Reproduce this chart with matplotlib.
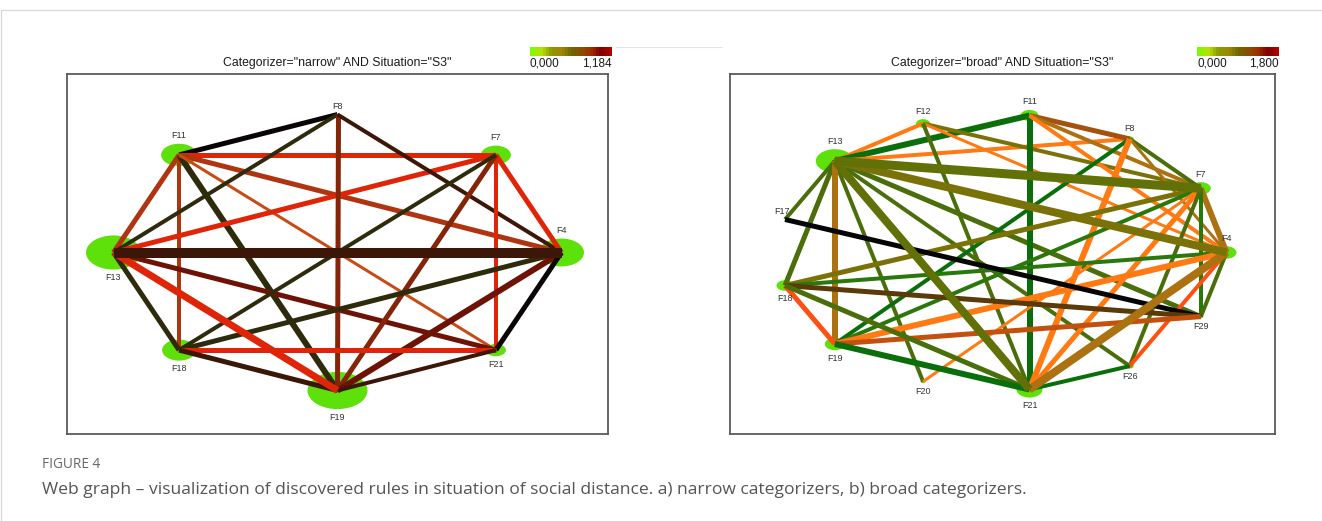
import numpy as np
import matplotlib
matplotlib.use("Agg")
import matplotlib.pyplot as plt
from matplotlib.patches import Ellipse, Rectangle
from matplotlib.colors import LinearSegmentedColormap

# ---- narrow categorizers, S3 ----
narrow_nodes = ["F4", "F7", "F8", "F11", "F13", "F18", "F19", "F21"]
narrow_support = [45, 30, 0, 36, 55, 34, 60, 20]
narrow_edges = [("F11", "F8"), ("F11", "F7"), ("F11", "F13"), ("F11", "F18"),
                ("F11", "F19"), ("F11", "F4"), ("F11", "F21"), ("F13", "F8"),
                ("F13", "F7"), ("F13", "F21"), ("F13", "F18"),
                ("F8", "F19"), ("F8", "F4"), ("F7", "F4"), ("F7", "F21"),
                ("F7", "F19"), ("F7", "F18"), ("F4", "F18"), ("F4", "F19"),
                ("F4", "F21"), ("F18", "F21"), ("F18", "F19"), ("F19", "F21"),
                ("F13", "F19"), ("F13", "F4")]
narrow_edge_support = [5, 5, 5, 4, 6, 5, 3, 4, 5, 5, 5, 5, 4, 5, 4, 5, 4, 5, 6, 5, 5, 5, 4, 7, 10]
narrow_edge_lift = [0, 7, 5, 5, 1, 5, 6, 1, 7, 3, 1, 4, 2, 7, 7, 4, 1, 1, 3, 0, 7, 2, 2, 7, 2]
narrow_max = 1.184

# ---- broad categorizers, S3 ----
broad_nodes = ["F4", "F7", "F8", "F11", "F12", "F13", "F17", "F18", "F19",
               "F20", "F21", "F26", "F29"]
broad_support = [20, 20, 8, 18, 14, 38, 0, 17, 20, 5, 26, 8, 5]
broad_edges = [("F13", "F12"), ("F13", "F11"), ("F13", "F8"), ("F13", "F29"),
               ("F13", "F26"), ("F13", "F20"), ("F13", "F17"), ("F13", "F18"),
               ("F13", "F19"), ("F12", "F7"), ("F12", "F4"), ("F12", "F21"),
               ("F11", "F21"), ("F11", "F8"), ("F11", "F7"), ("F11", "F4"),
               ("F8", "F7"), ("F8", "F4"), ("F8", "F19"), ("F8", "F21"),
               ("F7", "F4"), ("F7", "F29"), ("F7", "F18"), ("F7", "F19"),
               ("F7", "F20"), ("F7", "F21"), ("F7", "F26"), ("F4", "F29"),
               ("F4", "F18"), ("F4", "F19"), ("F4", "F26"), ("F29", "F17"),
               ("F29", "F18"), ("F29", "F19"), ("F18", "F19"), ("F18", "F21"),
               ("F19", "F21"), ("F21", "F26"), ("F4", "F21"), ("F13", "F21"),
               ("F13", "F4"), ("F13", "F7")]
broad_edge_support = [4, 6, 4, 5, 4, 4, 4, 5, 6, 4, 3, 4, 6, 5, 4, 4, 4, 3, 4, 6,
                      6, 4, 5, 4, 3, 5, 4, 4, 4, 6, 4, 5, 5, 5, 5, 5, 6, 4, 8, 8,
                      8, 9]
broad_edge_lift = [7, 1, 7, 3, 3, 3, 3, 3, 6, 5, 7, 3, 1, 11, 6, 7, 3, 6, 1, 7,
                   6, 2, 5, 2, 7, 7, 3, 3, 2, 7, 8, 0, 10, 9, 8, 3, 1, 1, 6, 4,
                   5, 4]
broad_max = 1.800

narrow_palette = ["#0a0505", "#2e2a0c", "#3c1606", "#6e1206", "#842408",
                  "#b03410", "#c84a14", "#e02408"]
broad_palette = ["#050505", "#0a6e0a", "#2a780c", "#4a6e0a", "#627008",
                 "#7a7208", "#ac7212", "#ff7a12", "#ff5014", "#c4500e",
                 "#5a3a08", "#a4520c"]
legend_cmap = LinearSegmentedColormap.from_list(
    "rules", ["#7cfc00", "#b8e000", "#8a9a00", "#a08800", "#6e6a00",
              "#8a5000", "#a03000", "#800000", "#b00000"])

plt.rcParams["font.family"] = ["Liberation Sans", "DejaVu Sans"]

W, H = 1322, 521
fig = plt.figure(figsize=(W / 100, H / 100), dpi=100)

# card outline
fig.patches.append(Rectangle((1 / W, -0.02), 1.2, (H - 10) / H + 0.02,
                             transform=fig.transFigure, fill=False,
                             edgecolor="#d6d6d6", lw=0.8))


def draw_web(box, nodes, support, edges, e_support, e_lift, palette, title, vmax):
    x0, y0, x1, y1 = box
    bw, bh = x1 - x0, y1 - y0
    ax = fig.add_axes([x0 / W, 1 - y1 / H, bw / W, bh / H])
    ax.set_xlim(-bw / 2, bw / 2)
    ax.set_ylim(-bh / 2, bh / 2)
    ax.set_xticks([])
    ax.set_yticks([])
    for s in ax.spines.values():
        s.set_color("#5a5a5a")
        s.set_linewidth(1.3)

    rx, ry = 224, 138
    ang = np.arange(len(nodes)) * 2 * np.pi / len(nodes)
    pos = {n: (rx * np.cos(a), ry * np.sin(a) + 1.5) for n, a in zip(nodes, ang)}

    # node ellipses under the rules
    for n, s in zip(nodes, support):
        if s > 0:
            ax.add_patch(Ellipse(pos[n], s, s * 0.62, color="#5ee00a", lw=0, zorder=1))

    for (a, b), w, c in zip(edges, e_support, e_lift):
        ax.plot([pos[a][0], pos[b][0]], [pos[a][1], pos[b][1]],
                color=palette[c], lw=w * 0.72, solid_capstyle="butt", zorder=2)

    for n, s, a in zip(nodes, support, ang):
        off = s * 0.31 + 8
        up = np.sin(a) > -1e-9 and np.cos(a) > -0.999
        dx = -3 if np.cos(a) < -0.9 and up else 0
        ax.text(pos[n][0] + dx, pos[n][1] + (off if up else -off), n,
                ha="center", va="center", fontsize=6.5, color="#333333", zorder=3)

    ax.text(0.5, 1 + 11 / bh, title, transform=ax.transAxes, ha="center",
            va="center", fontsize=8.8, color="#1a1a1a")

    # value legend above the box
    cx0, cw = x1 - 78, 82
    cax = fig.add_axes([cx0 / W, 1 - 56 / H, cw / W, 9 / H])
    cax.imshow(np.linspace(0, 1, 26)[None, :], aspect="auto", cmap=legend_cmap)
    cax.set_axis_off()
    fig.text(cx0 / W, 1 - 63 / H, "0,000", ha="left", va="center",
             fontsize=8.5, color="#1a1a1a")
    fig.text((cx0 + cw) / W, 1 - 63 / H, f"{vmax:.3f}".replace(".", ","),
             ha="right", va="center", fontsize=8.5, color="#1a1a1a")
    return ax


draw_web((67, 74, 608, 434), narrow_nodes, narrow_support, narrow_edges,
         narrow_edge_support, narrow_edge_lift, narrow_palette,
         'Categorizer="narrow" AND Situation="S3"', narrow_max)
draw_web((730, 74, 1275, 434), broad_nodes, broad_support, broad_edges,
         broad_edge_support, broad_edge_lift, broad_palette,
         'Categorizer="broad" AND Situation="S3"', broad_max)

fig.add_artist(plt.Line2D([616 / W, 722 / W], [1 - 47 / H] * 2, color="#e4e4e4", lw=0.8))

cap_font = ["Open Sans", "DejaVu Sans"]
fig.text(42 / W, 1 - 465 / H, "FIGURE 4", fontsize=9.8, color="#666666",
         family=cap_font, va="center")
fig.text(42 / W, 1 - 490 / H,
         "Web graph \u2013 visualization of discovered rules in situation of social "
         "distance. a) narrow categorizers, b) broad categorizers.",
         fontsize=12.6, color="#555555", family=cap_font, va="center")

fig.savefig("out.png", dpi=100)
